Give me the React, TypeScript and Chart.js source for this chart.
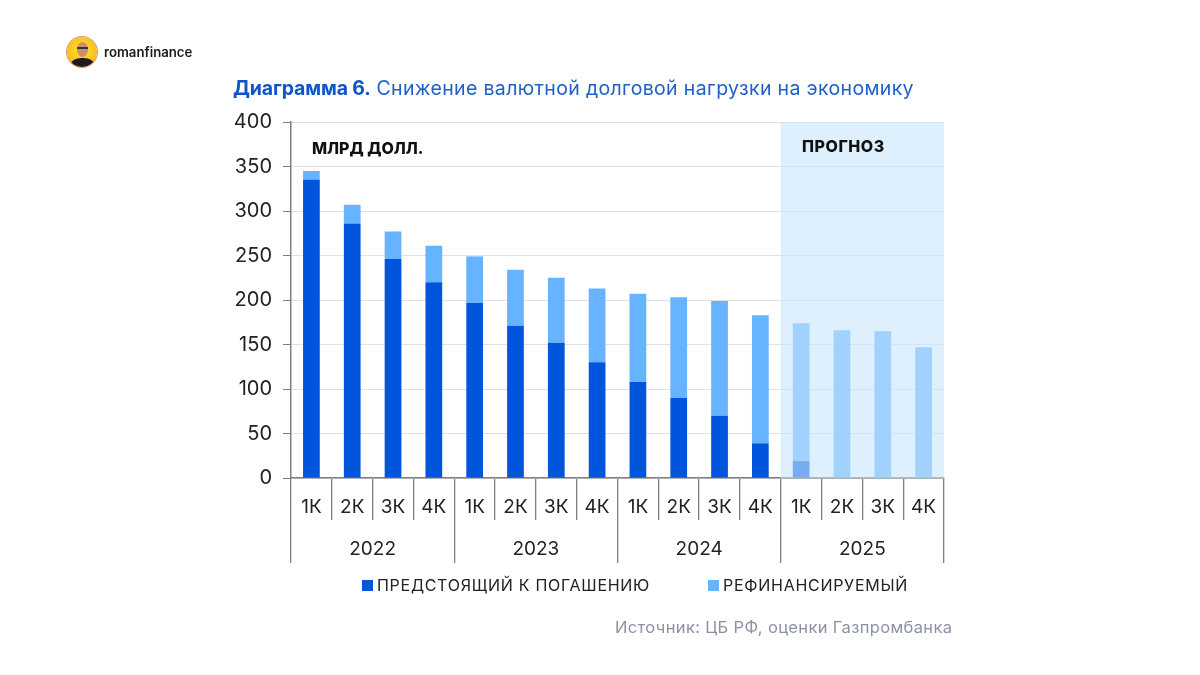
import { useEffect, useRef } from 'react';
import { Chart, registerables } from 'chart.js';
import type { Plugin } from 'chart.js';

Chart.register(...registerables);

const quarters = ['1К', '2К', '3К', '4К', '1К', '2К', '3К', '4К', '1К', '2К', '3К', '4К', '1К', '2К', '3К', '4К'];
const years = ['2022', '2023', '2024', '2025'];
const maturing = [335, 286, 246, 220, 197, 171, 152, 130, 108, 90, 70, 39, 19, 0, 0, 0];
const refinanced = [10, 21, 31, 41, 52, 63, 73, 83, 99, 113, 129, 144, 155, 166, 165, 147];
const yTicks = [0, 50, 100, 150, 200, 250, 300, 350, 400];
const forecastFrom = 12;

const FONT = 'Inter, "Noto Sans", sans-serif';
const TEXT = '#222222';
const AXIS = '#7f7f7f';
const DARK = '#0055DD';
const LIGHT = '#66B3FF';

// forecast band goes over the bars, that is what washes them out in the original
const forecastBand: Plugin<'bar'> = {
  id: 'forecastBand',
  afterDatasetsDraw(chart) {
    const { ctx, chartArea, scales } = chart;
    const step = scales.x.getPixelForValue(1) - scales.x.getPixelForValue(0);
    const start = scales.x.getPixelForValue(forecastFrom) - step / 2;
    ctx.save();
    ctx.fillStyle = 'rgba(200, 230, 254, 0.6)';
    ctx.fillRect(start, chartArea.top, chartArea.right - start, chartArea.bottom - chartArea.top);
    ctx.restore();
  },
};

function Avatar() {
  return (
    <div style={{ position: 'absolute', left: 67, top: 37, width: 30, height: 30, borderRadius: '50%', overflow: 'hidden', background: 'radial-gradient(circle at 50% 45%, #FFE23A 0%, #FBC21F 60%, #EE9A1E 100%)', boxShadow: '0 0 0 1px #D89A6A' }}>
      <div style={{ position: 'absolute', left: 10, top: 5, width: 11, height: 15, borderRadius: '50%', background: '#C98F6E' }} />
      <div style={{ position: 'absolute', left: 10, top: 10, width: 11, height: 2, background: '#333' }} />
      <div style={{ position: 'absolute', left: 4, top: 21, width: 23, height: 14, borderRadius: '45% 45% 0 0', background: '#1E1B1A' }} />
    </div>
  );
}

function LegendItem({ left, color, label }: { left: number; color: string; label: string }) {
  return (
    <div style={{ position: 'absolute', left, top: 575, height: 20, display: 'flex', alignItems: 'center', fontSize: 16, letterSpacing: 0.72, color: TEXT, whiteSpace: 'nowrap' }}>
      <span style={{ width: 11, height: 11, background: color, marginRight: 4 }} />
      {label}
    </div>
  );
}

export default function App() {
  const chartRef = useRef<HTMLCanvasElement>(null);

  useEffect(() => {
    if (!chartRef.current) return;
    const chart = new Chart(chartRef.current, {
      type: 'bar',
      data: {
        labels: quarters,
        datasets: [
          { label: 'ПРЕДСТОЯЩИЙ К ПОГАШЕНИЮ', data: maturing, backgroundColor: DARK },
          { label: 'РЕФИНАНСИРУЕМЫЙ', data: refinanced, backgroundColor: LIGHT },
        ],
      },
      plugins: [forecastBand],
      options: {
        responsive: false,
        animation: false,
        layout: { padding: { left: 225, right: 256, top: 122, bottom: 112 } },
        datasets: { bar: { barPercentage: 0.41, categoryPercentage: 1 } },
        plugins: { legend: { display: false }, tooltip: { enabled: false } },
        scales: {
          x: {
            stacked: true,
            offset: true,
            border: { color: AXIS, width: 1.5 },
            grid: { drawOnChartArea: false, color: AXIS, lineWidth: 1.3, tickLength: 42 },
            ticks: { color: TEXT, font: { family: FONT, size: 19 }, padding: -24, maxRotation: 0, autoSkip: false },
            afterFit: (scale) => { scale.height = 42; },
          },
          years: {
            type: 'category',
            position: 'bottom',
            labels: years,
            offset: true,
            border: { display: false },
            grid: { drawOnChartArea: false, color: AXIS, lineWidth: 1.3, tickLength: 43 },
            ticks: { color: TEXT, font: { family: FONT, size: 19 }, padding: -25, maxRotation: 0 },
            afterFit: (scale) => { scale.height = 43; },
          },
          y: {
            stacked: true,
            min: 0,
            max: 400,
            afterBuildTicks: (scale) => { scale.ticks = yTicks.map((value) => ({ value })); },
            border: { color: AXIS, width: 1.5 },
            grid: { color: '#E1E1E1', tickColor: AXIS, tickLength: 8 },
            ticks: { color: TEXT, font: { family: FONT, size: 20 }, padding: 11 },
            afterFit: (scale) => { scale.width = 66; },
          },
        },
      },
    });
    return () => chart.destroy();
  }, []);

  return (
    <div style={{ position: 'absolute', left: 0, top: 0, width: 1200, height: 675, background: '#fff', overflow: 'hidden', fontFamily: FONT }}>
      <canvas ref={chartRef} width={1200} height={675} style={{ position: 'absolute', left: 0, top: 0 }} />
      <Avatar />
      <div style={{ position: 'absolute', left: 104, top: 44, fontSize: 13.2, fontWeight: 600, color: '#1a1a1a' }}>romanfinance</div>
      <div style={{ position: 'absolute', left: 233, top: 76, fontSize: 19.5, letterSpacing: 0.35, color: '#1F5FC8', whiteSpace: 'nowrap' }}>
        <b style={{ color: '#0F55C9', letterSpacing: -0.15 }}>Диаграмма 6.</b> Снижение валютной долговой нагрузки на экономику
      </div>
      <div style={{ position: 'absolute', left: 312, top: 138, fontSize: 16, fontWeight: 800, color: '#111' }}>МЛРД ДОЛЛ.</div>
      <div style={{ position: 'absolute', left: 802, top: 136, fontSize: 16, fontWeight: 800, letterSpacing: 0.55, color: '#111' }}>ПРОГНОЗ</div>
      <LegendItem left={362} color={DARK} label="ПРЕДСТОЯЩИЙ К ПОГАШЕНИЮ" />
      <LegendItem left={708} color={LIGHT} label="РЕФИНАНСИРУЕМЫЙ" />
      <div style={{ position: 'absolute', left: 615, top: 617, fontSize: 16.5, letterSpacing: 0.36, color: '#8A92A3', whiteSpace: 'nowrap' }}>Источник: ЦБ РФ, оценки Газпромбанка</div>
    </div>
  );
}
